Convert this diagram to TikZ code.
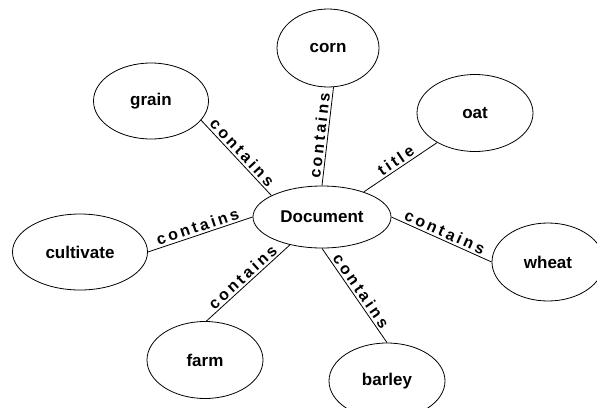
\documentclass[tikz,border=0pt]{standalone}
\usepackage{fontspec}
\setmainfont{Liberation Sans}
\newfontfamily\lblfont[LetterSpace=18]{Liberation Sans}
\usetikzlibrary{shapes.geometric}
\begin{document}
\begin{tikzpicture}[x=1pt,y=-1pt,
  ent/.style={ellipse,draw,line width=0.8pt,inner sep=0pt,font=\fontsize{17}{19}\selectfont\bfseries},
  conn/.style={line width=0.8pt},
  lbl/.style={midway,sloped,above,inner sep=2pt,font=\lblfont\fontsize{16}{18}\selectfont\bfseries}]
\useasboundingbox (0,0) rectangle (597,407);
\begin{scope}
\clip (0,0) rectangle (597,407);
\node[ent,minimum width=138pt,minimum height=62pt] (doc) at (322,217) {Document};
\node[ent,minimum width=102pt,minimum height=78pt] (corn) at (328,48) {corn};
\node[ent,minimum width=115pt,minimum height=76pt] (grain) at (151,101) {grain};
\node[ent,minimum width=116pt,minimum height=77pt] (oat) at (475,113) {oat};
\node[ent,minimum width=135pt,minimum height=76pt] (cult) at (80,252) {cultivate};
\node[ent,minimum width=112pt,minimum height=78pt] (wheat) at (548,262) {wheat};
\node[ent,minimum width=116pt,minimum height=77pt] (farm) at (205,360) {farm};
\node[ent,minimum width=116pt,minimum height=76pt] (barley) at (387,381) {barley};
\end{scope}
\draw[conn] (grain.-21) -- node[lbl] {contains} (doc.157);
\draw[conn] (doc.90) -- node[lbl] {contains} (corn.-82);
\draw[conn] (doc.31) -- node[lbl] {title} (oat.218);
\draw[conn] (cult.0) -- node[lbl] {contains} (doc.180);
\draw[conn] (farm.88) -- node[lbl] {contains} (doc.221);
\draw[conn] (doc.0) -- node[lbl] {contains} (wheat.180);
\draw[conn] (doc.270) -- node[lbl] {contains} (barley.90);
\end{tikzpicture}
\end{document}
